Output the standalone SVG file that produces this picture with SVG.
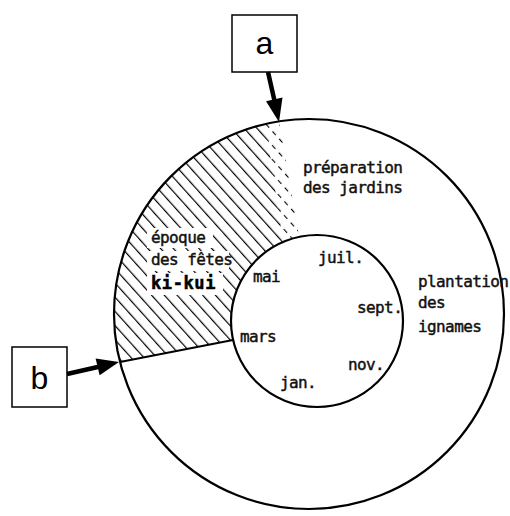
<svg xmlns="http://www.w3.org/2000/svg" width="510" height="516" viewBox="0 0 510 516">
  <style>
    .t { font-family: "DejaVu Sans Mono", "Liberation Mono", monospace; font-size: 16px; letter-spacing: -0.6px; fill: #111; stroke: #111; stroke-width: 0.45; }
    .tb { font-family: "DejaVu Sans Mono", "Liberation Mono", monospace; font-size: 17px; font-weight: bold; fill: #000; stroke: #000; stroke-width: 0.5; letter-spacing: 0.6px; }
    .lbl { font-family: "Liberation Sans", Arial, sans-serif; font-size: 32px; fill: #000; text-anchor: middle; }
    .ring { fill: none; stroke: #000; stroke-width: 2.2; }
    .box { fill: #fff; stroke: #000; stroke-width: 1.5; }
  </style>
  <defs>
    <pattern id="hatch" patternUnits="userSpaceOnUse" width="9.5" height="9.5" patternTransform="rotate(-42)">
      <line x1="0" y1="0" x2="0" y2="9.5" stroke="#000" stroke-width="2.4"/>
    </pattern>
    <pattern id="hatchDash" patternUnits="userSpaceOnUse" width="9.5" height="10" patternTransform="rotate(-42)">
      <line x1="0" y1="0" x2="0" y2="5" stroke="#000" stroke-width="2.2"/>
    </pattern>
    <clipPath id="sector">
      <path d="M120,362 A195,195 0 0 1 279,121.3 L299,236.9 A86,86 0 0 0 233,340 Z"/>
    </clipPath>
    <clipPath id="strip">
      <polygon points="262,100 320,100 320,250 284,250"/>
    </clipPath>
  </defs>

  <rect width="510" height="516" fill="#fff"/>

  <g id="hatched-sector" clip-path="url(#sector)">
    <rect x="100" y="100" width="220" height="280" fill="url(#hatch)"/>
    <g clip-path="url(#strip)">
      <rect x="250" y="100" width="70" height="150" fill="#fff"/>
      <rect x="250" y="100" width="70" height="150" fill="url(#hatchDash)"/>
    </g>
    <rect x="147" y="228" width="66" height="20" fill="#fff"/>
    <rect x="147" y="251" width="82" height="20" fill="#fff"/>
    <rect x="147" y="273" width="76" height="22" fill="#fff"/>
  </g>

  <g id="outer-circle">
    <circle class="ring" cx="309" cy="314" r="195"/>
  </g>
  <g id="inner-circle">
    <circle class="ring" cx="317" cy="321" r="86" fill="#fff"/>
  </g>
  <g id="boundary">
    <line x1="120" y1="362" x2="233" y2="340" stroke="#000" stroke-width="1.8"/>
  </g>

  <g id="texts-outer">
    <text class="t" x="303" y="173">préparation</text>
    <text class="t" x="303" y="193">des jardins</text>
    <text class="t" x="151" y="243">époque</text>
    <text class="t" x="151" y="265">des fêtes</text>
    <text class="tb" x="151" y="289">ki-kui</text>
    <text class="t" x="418" y="287">plantation</text>
    <text class="t" x="418" y="308">des</text>
    <text class="t" x="418" y="332">ignames</text>
  </g>
  <g id="months">
    <text class="t" x="318" y="263">juil.</text>
    <text class="t" x="253" y="282">mai</text>
    <text class="t" x="357" y="313">sept.</text>
    <text class="t" x="240" y="342">mars</text>
    <text class="t" x="348" y="370">nov.</text>
    <text class="t" x="280" y="388">jan.</text>
  </g>

  <g id="node-a">
    <rect class="box" x="232" y="15" width="65" height="57"/>
    <text class="lbl" x="264.5" y="54">a</text>
  </g>
  <g id="node-b">
    <rect class="box" x="12" y="347" width="55" height="60"/>
    <text class="lbl" x="39.5" y="389">b</text>
  </g>

  <g id="connectors">
    <line x1="268" y1="72" x2="275" y2="103" stroke="#000" stroke-width="4.5"/>
    <polygon points="279,122 282.5,97.5 266,101.2" fill="#000"/>
    <line x1="67" y1="374" x2="100" y2="366.5" stroke="#000" stroke-width="4.5"/>
    <polygon points="119,362 99.6,375.2 95.6,358.6" fill="#000"/>
  </g>
</svg>
